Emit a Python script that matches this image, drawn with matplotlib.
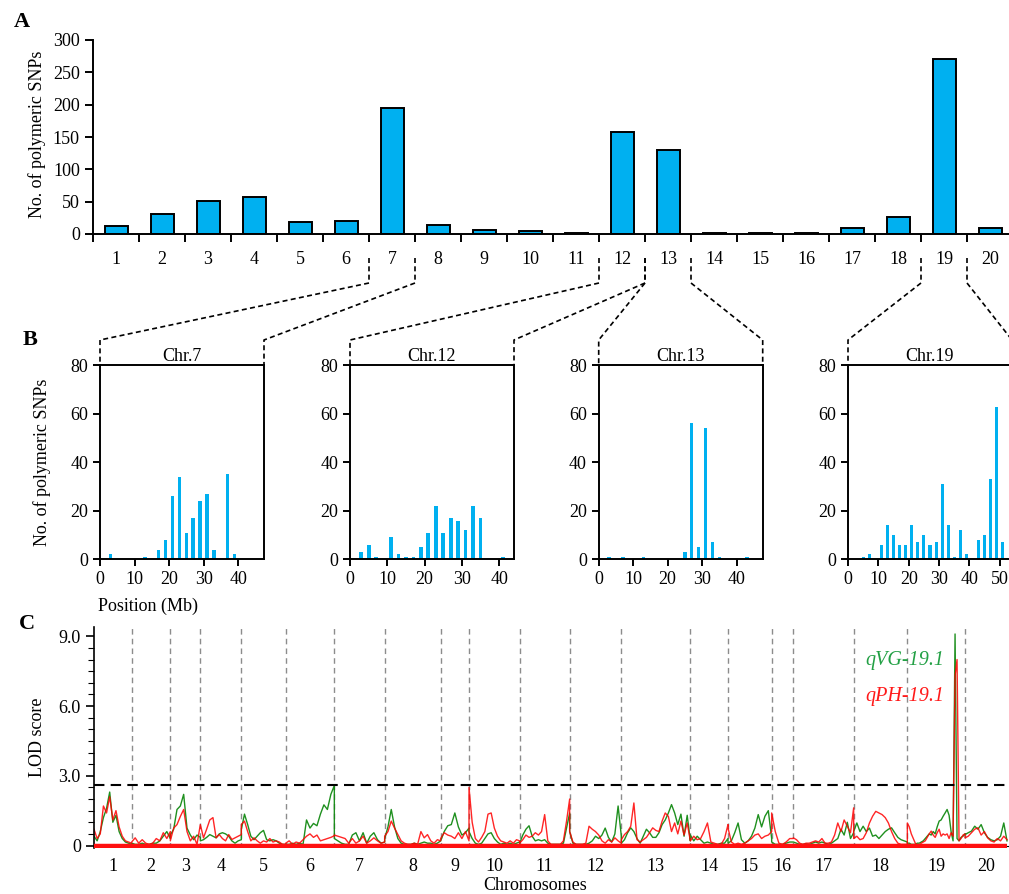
import numpy as np
import matplotlib
matplotlib.use('Agg')
import matplotlib.pyplot as plt
from matplotlib.lines import Line2D

plt.rcParams['font.family'] = ['Liberation Serif', 'DejaVu Serif']
plt.rcParams['font.size'] = 13

# ---------------- data ----------------
chromosomes = [str(i) for i in range(1, 21)]
snp_counts = [13, 31, 51, 57, 18, 20, 195, 14, 6, 4, 1, 157, 130, 1, 2, 1, 10, 27, 270, 9]

chr7_pos = [3, 13, 17, 19, 21, 23, 25, 27, 29, 31, 33, 37, 39]
chr7_cnt = [2, 1, 4, 8, 26, 34, 11, 17, 24, 27, 4, 35, 2]
chr12_pos = [3, 5, 7, 11, 13, 15, 17, 19, 21, 23, 25, 27, 29, 31, 33, 35, 41]
chr12_cnt = [3, 6, 1, 9, 2, 1, 1, 5, 11, 22, 11, 17, 16, 12, 22, 17, 1]
chr13_pos = [3, 7, 13, 25, 27, 29, 31, 33, 35, 43]
chr13_cnt = [1, 1, 1, 3, 56, 5, 54, 7, 1, 1]
chr19_pos = [5, 7, 11, 13, 15, 17, 19, 21, 23, 25, 27, 29, 31, 33, 35, 37, 39, 43, 45, 47, 49, 51]
chr19_cnt = [1, 2, 6, 14, 10, 6, 6, 14, 7, 10, 6, 7, 31, 14, 1, 12, 2, 8, 10, 33, 63, 7]

# genetic map lengths (cM) of the 20 linkage groups
chr_len_cM = [113, 116, 90, 123, 133, 146, 151, 168, 85, 152,
              150, 155, 207, 113, 131, 65, 181, 161, 173, 126]

lod_qVG = [
    [0.4, 0.2, 0.6, 1.2, 1.6, 2.3, 1.0, 1.3, 0.6, 0.3, 0.15, 0.1, 0.05],
    [0.1, 0.05, 0.05, 0.1, 0.05, 0.05, 0.1, 0.1, 0.2, 0.4, 0.6, 0.3],
    [0.45, 0.7, 1.55, 1.7, 2.2, 0.75, 0.45, 0.25, 0.45, 0.35],
    [0.2, 0.25, 0.35, 0.47, 0.4, 0.33, 0.5, 0.55, 0.5, 0.4, 0.2, 0.1, 0.2, 0.25],
    [0.7, 1.35, 0.9, 0.4, 0.25, 0.4, 0.55, 0.65, 0.25, 0.2, 0.25, 0.2, 0.1, 0.05, 0.05],
    [0.05, 0.05, 0.1, 0.05, 0.1, 0.05, 1.1, 0.75, 0.95, 0.85, 1.35, 1.75, 1.55, 2.2, 2.58],
    [0.3, 0.2, 0.1, 0.05, 0.05, 0.45, 0.55, 0.2, 0.55, 0.1, 0.4, 0.55, 0.25, 0.1, 0.15],
    [0.3, 0.8, 1.55, 0.8, 0.3, 0.1, 0.05, 0.05, 0.05, 0.1, 0.05, 0.1, 0.15, 0.1, 0.1, 0.05, 0.1, 0.2],
    [0.2, 0.6, 0.85, 0.9, 1.4, 0.8, 0.45, 0.55, 0.75],
    [0.6, 0.3, 0.1, 0.05, 0.1, 0.3, 0.5, 0.55, 0.3, 0.15, 0.05, 0.1, 0.05, 0.1, 0.05, 0.1, 0.15],
    [0.1, 0.45, 0.7, 0.85, 0.4, 0.2, 0.25, 0.2, 0.25, 0.1, 0.05, 0.05, 0.05, 0.05, 0.1, 0.75, 1.4],
    [0.6, 0.1, 0.05, 0.05, 0.05, 0.05, 0.1, 0.2, 0.4, 0.3, 0.45, 0.75, 0.35, 0.15, 0.5, 1.7, 0.4],
    [0.1, 0.25, 0.55, 0.76, 0.6, 0.3, 0.1, 0.4, 0.7, 0.55, 0.35, 0.35, 0.55, 0.9, 1.1, 1.4,
     1.76, 1.4, 0.9, 1.35, 0.4, 1.3, 0.2],
    [0.45, 0.2, 0.4, 0.25, 0.1, 0.15, 0.1, 0.05, 0.05, 0.1, 0.1, 0.3],
    [0.1, 0.2, 0.55, 0.97, 0.25, 0.1, 0.2, 0.4, 0.75, 1.33, 0.8, 1.26, 1.5, 0.3],
    [0.15, 0.05, 0.05, 0.05, 0.1, 0.15, 0.15],
    [0.15, 0.1, 0.05, 0.05, 0.07, 0.05, 0.1, 0.15, 0.1, 0.15, 0.1, 0.05, 0.1, 0.2, 0.3, 0.7,
     0.45, 1.0, 0.3, 0.55],
    [0.6, 0.97, 0.6, 0.83, 0.6, 0.75, 0.4, 0.45, 0.3, 0.45, 0.6, 0.7, 0.76, 0.55, 0.35, 0.25, 0.2, 0.15],
    [0.1, 0.1, 0.05, 0.05, 0.05, 0.1, 0.1, 0.15, 0.2, 0.3, 0.4, 0.5, 0.45, 0.6, 0.5, 0.8, 1.05,
     1.1, 1.26, 1.4, 1.55, 1.3, 0.6, 0.2, 9.1, 0.3, 0.2, 0.35, 0.4, 0.5],
    [0.47, 0.55, 0.62, 0.83, 0.7, 0.9, 0.55, 0.35, 0.25, 0.2, 0.25, 0.4, 0.97, 0.2],
]

lod_qPH = [
    [0.7, 0.3, 0.5, 1.7, 1.4, 2.1, 1.1, 1.5, 0.8, 0.4, 0.2, 0.15, 0.1],
    [0.15, 0.33, 0.1, 0.25, 0.1, 0.05, 0.1, 0.3, 0.2, 0.55, 0.3, 0.6],
    [0.2, 0.75, 0.9, 1.25, 1.55, 0.6, 0.2, 0.4, 0.05, 0.9],
    [0.9, 0.33, 0.7, 1.1, 1.2, 0.33, 0.47, 0.3, 0.2, 0.47, 0.26, 0.33, 0.4, 0.47],
    [0.9, 1.05, 0.6, 0.2, 0.33, 0.2, 0.1, 0.2, 0.15, 0.3, 0.15, 0.2, 0.15, 0.05, 0.05],
    [0.1, 0.2, 0.05, 0.15, 0.1, 0.25, 0.4, 0.5, 0.35, 0.45, 0.2, 0.25, 0.3, 0.35, 0.42],
    [0.45, 0.4, 0.35, 0.3, 0.1, 0.3, 0.1, 0.2, 0.4, 0.1, 0.2, 0.33, 0.2, 0.1, 0.15],
    [0.4, 0.6, 1.05, 0.75, 0.47, 0.2, 0.1, 0.05, 0.05, 0.1, 0.05, 0.6, 0.33, 0.47, 0.2, 0.1, 0.25, 0.2],
    [0.3, 0.55, 0.45, 0.4, 0.3, 0.55, 0.3, 0.6, 0.2],
    [2.5, 1.0, 0.3, 0.15, 0.35, 0.6, 1.35, 1.4, 0.75, 0.4, 0.2, 0.15, 0.1, 0.2, 0.1, 0.25, 0.2],
    [0.1, 0.25, 0.45, 0.35, 0.4, 0.55, 0.45, 0.6, 1.33, 0.2, 0.05, 0.05, 0.05, 0.05, 0.2, 1.05, 2.0],
    [0.6, 0.15, 0.05, 0.05, 0.05, 0.1, 0.83, 0.7, 0.6, 0.45, 0.2, 0.1, 0.25, 0.15, 0.33, 0.2, 0.1],
    [0.25, 0.47, 0.6, 0.83, 1.83, 0.25, 0.15, 0.25, 0.35, 0.55, 0.76, 0.65, 0.6, 1.05, 1.4, 1.25,
     0.6, 0.97, 0.5, 1.05, 0.45, 0.97, 0.2],
    [0.2, 0.4, 0.25, 0.3, 0.6, 0.97, 0.15, 0.1, 0.05, 0.05, 0.3, 0.9],
    [0.76, 0.15, 0.05, 0.1, 0.05, 0.1, 0.2, 0.3, 0.45, 0.5, 0.3, 0.4, 0.45, 0.6],
    [1.4, 0.6, 0.1, 0.05, 0.15, 0.3, 0.3],
    [0.33, 0.25, 0.1, 0.05, 0.1, 0.1, 0.15, 0.2, 0.15, 0.3, 0.1, 0.1, 0.15, 0.45, 0.97, 0.6,
     1.1, 0.83, 0.55, 1.62],
    [0.3, 0.4, 0.25, 0.3, 0.55, 0.97, 1.26, 1.47, 1.4, 1.33, 1.2, 0.97, 0.6, 0.3, 0.1, 0.05, 0.05, 0.05],
    [0.97, 0.8, 0.5, 0.3, 0.1, 0.0, 0.02, 0.1, 0.15, 0.2, 0.35, 0.5, 0.62, 0.45, 0.35, 0.55, 0.7,
     0.4, 0.5, 0.45, 0.5, 0.3, 0.55, 0.4, 7.3, 8.0, 0.2, 0.3, 0.45, 0.5],
    [0.33, 0.4, 0.55, 0.7, 0.76, 0.45, 0.6, 0.33, 0.2, 0.15, 0.3, 0.2, 0.4, 0.25],
]

lod_threshold = 2.6
qtl_labels = ['qVG-19.1', 'qPH-19.1']

# ---------------- figure ----------------
W, H = 1009, 894
fig = plt.figure(figsize=(W / 100, H / 100), dpi=100)


def fr(x0, y_top, x1, y_bot):
    return [x0 / W, 1 - y_bot / H, (x1 - x0) / W, (y_bot - y_top) / H]


BAR = '#00B0F0'
FS = 13

# ---- Panel A ----
axA = fig.add_axes(fr(93, 40, 1013, 234))
xA = np.arange(1, len(chromosomes) + 1)
axA.bar(xA, snp_counts, width=0.5, color=BAR, edgecolor='black', linewidth=1.4)
axA.set_xlim(0.5, len(chromosomes) + 0.5)
axA.set_ylim(0, 300)
axA.set_yticks(range(0, 301, 50))
axA.set_xticks(xA)
axA.set_xticklabels(chromosomes)
axA.set_xticks(np.arange(0.5, len(chromosomes) + 1, 1), minor=True)
axA.tick_params(axis='x', which='major', length=0, pad=12, labelsize=FS)
axA.tick_params(axis='x', which='minor', length=6, width=1.4, direction='out')
axA.tick_params(axis='y', length=6, width=1.4, direction='out', labelsize=FS)
for s in ['top', 'right']:
    axA.spines[s].set_visible(False)
for s in ['left', 'bottom']:
    axA.spines[s].set_linewidth(1.4)
fig.text(37 / W, 1 - 134 / H, 'No. of polymeric SNPs', rotation=90, ha='center', va='center', fontsize=FS)
fig.text(22 / W, 1 - 22 / H, 'A', ha='center', va='center', fontsize=16, fontweight='bold')

# ---- Panel B ----
b_specs = [
    (chr7_pos, chr7_cnt, 'Chr.7', 100.0, 47.5, 6.5, 7.5),
    (chr12_pos, chr12_cnt, 'Chr.12', 350.0, 44.0, 11.5, 12.5),
    (chr13_pos, chr13_cnt, 'Chr.13', 598.7, 47.6, 12.5, 13.5),
    (chr19_pos, chr19_cnt, 'Chr.19', 848.0, 54.0, 18.5, 19.5),
]
for pos, cnt, name, left, xmax, bl, br in b_specs:
    ax = fig.add_axes(fr(left, 365.3, left + 164, 559.3))
    ax.bar(pos, cnt, width=1.0, color=BAR, linewidth=0)
    ax.set_xlim(0, xmax)
    ax.set_ylim(0, 80)
    ax.set_yticks([0, 20, 40, 60, 80])
    ax.set_xticks(np.arange(0, xmax, 10))
    ax.tick_params(length=5, width=1.4, direction='out', labelsize=FS)
    for s in ax.spines.values():
        s.set_linewidth(1.4)
    ax.set_title(name, fontsize=FS, pad=3)
    # dashed connectors from panel A
    inv = fig.transFigure.inverted()
    xa_l = inv.transform(axA.transData.transform((bl, 0)))[0]
    xa_r = inv.transform(axA.transData.transform((br, 0)))[0]
    xb_l, yb_top = inv.transform(ax.transAxes.transform((0, 1)))
    xb_r, _ = inv.transform(ax.transAxes.transform((1, 1)))
    y1, y2, y3 = 1 - 258 / H, 1 - 283 / H, 1 - 340 / H
    for xa, xb in [(xa_l, xb_l), (xa_r, xb_r)]:
        fig.add_artist(Line2D([xa, xa, xb, xb], [y1, y2, y3, yb_top], transform=fig.transFigure,
                              color='black', lw=1.2, ls=(0, (3, 2))))

fig.text(42 / W, 1 - 462 / H, 'No. of polymeric SNPs', rotation=90, ha='center', va='center', fontsize=FS)
fig.text(148 / W, 1 - 606 / H, 'Position (Mb)', ha='center', va='center', fontsize=FS)
fig.text(30 / W, 1 - 340 / H, 'B', ha='center', va='center', fontsize=16, fontweight='bold')

# ---- Panel C ----
axC = fig.add_axes(fr(94, 627, 1012, 848.3))
starts = np.concatenate([[0], np.cumsum(chr_len_cM)[:-1]])
ends = np.cumsum(chr_len_cM)
total = ends[-1]

xg = np.concatenate([st + np.linspace(0, L, len(g)) for st, L, g in zip(starts, chr_len_cM, lod_qVG)])
yg = np.concatenate(lod_qVG)
xr = np.concatenate([st + np.linspace(0, L, len(r)) for st, L, r in zip(starts, chr_len_cM, lod_qPH)])
yr = np.concatenate(lod_qPH)

for b in ends[:-1]:
    axC.axvline(b, color='#8C8C8C', lw=1.0, ls=(0, (4, 3)), zorder=1)
axC.plot(xg, yg, color='#138A13', lw=1.0, alpha=0.95, zorder=2)
axC.plot(xr, yr, color='#FF0000', lw=1.0, alpha=0.85, zorder=2.2)
axC.hlines(-0.04, 0, total, color='#FF1010', lw=3.2, zorder=2.6)
axC.axhline(lod_threshold, color='black', lw=1.5, ls=(0, (5, 3)), zorder=3)

axC.set_xlim(0, total + 15)
axC.set_ylim(-0.12, 9.4)
axC.set_yticks([0, 3, 6, 9])
axC.set_yticklabels(['0', '3.0', '6.0', '9.0'])
axC.set_yticks(np.arange(0, 9.4, 0.5), minor=True)
axC.tick_params(axis='y', which='major', length=6, width=1.2, labelsize=FS)
axC.tick_params(axis='y', which='minor', length=4, width=0.8)
mids = (starts + ends) / 2
axC.set_xticks(mids)
axC.set_xticklabels(chromosomes)
axC.tick_params(axis='x', length=0, pad=9, labelsize=FS)
for s in ['top', 'right']:
    axC.spines[s].set_visible(False)
axC.spines['bottom'].set_position(('data', 0))
axC.spines['bottom'].set_linewidth(0.8)
axC.spines['bottom'].set_zorder(2.5)
axC.spines['left'].set_linewidth(1.2)

fig.text(905 / W, 1 - 660 / H, qtl_labels[0], color='#23A045', fontsize=14.5, style='italic',
         ha='center', va='center')
fig.text(905 / W, 1 - 697 / H, qtl_labels[1], color='#FF1A1A', fontsize=14.5, style='italic',
         ha='center', va='center')
fig.text(37 / W, 1 - 737 / H, 'LOD score', rotation=90, ha='center', va='center', fontsize=FS)
fig.text(535 / W, 1 - 886 / H, 'Chromosomes', ha='center', va='center', fontsize=FS)
fig.text(27 / W, 1 - 624 / H, 'C', ha='center', va='center', fontsize=16, fontweight='bold')

fig.savefig('out.png', dpi=100)
